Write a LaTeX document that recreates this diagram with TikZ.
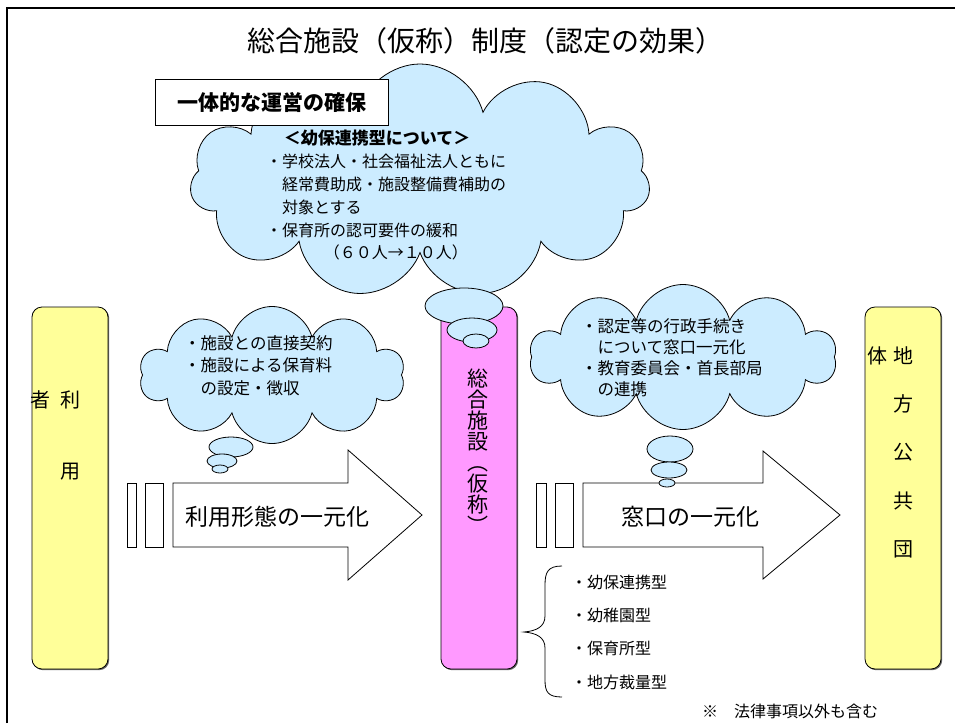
\documentclass[tikz,border=0pt]{standalone}
\usepackage{fontspec}
\setmainfont{Noto Sans CJK JP}
\usetikzlibrary{shapes.symbols,shadows}

\definecolor{cloudblue}{HTML}{CCECFF}
\definecolor{pillarpink}{HTML}{FF99FF}
\definecolor{pillaryellow}{HTML}{FFFF99}
\lineskiplimit=-10pt

\tikzset{
  bubble/.style={cloud, cloud puffs=11, cloud ignores aspect, draw, fill=cloudblue, line width=0.8pt, inner sep=0pt},
  puff/.style={draw, fill=cloudblue, line width=0.8pt},
  pillar/.style={draw, rounded corners=10pt, minimum width=76pt, minimum height=362pt, line width=0.8pt,
    drop shadow={shadow xshift=1.2pt, shadow yshift=-1.2pt, fill=black!60, opacity=1}},
  block/.style={draw, fill=white, line width=0.8pt},
  lines/.style={anchor=west, align=left, inner sep=0pt},
}

\begin{document}
\begin{tikzpicture}[x=1pt, y=-1pt]
\useasboundingbox (0,0) rectangle (955,723);
\draw[line width=2.5pt] (7,723) -- (7,8) -- (955,8);
\node[font=\fontsize{28}{30}\selectfont] (title) at (485,41) {総合施設（仮称）制度（認定の効果）};

% pillars
\node[pillar, fill=pillaryellow] (user) at (70,488) {};
\node[pillar, fill=pillarpink] (facility) at (479,488) {};
\node[pillar, fill=pillaryellow] (gov) at (903,488) {};

\node[font=\fontsize{20}{22}\selectfont] (u1) at (40,400) {者};
\node[font=\fontsize{20}{22}\selectfont] (u2) at (70,400) {利};
\node[font=\fontsize{20}{22}\selectfont] (u3) at (70,472) {用};

\node[align=center, inner sep=0pt, font=\fontsize{21}{21}\selectfont] (factext) at (478,451.5)
  {総\\合\\施\\設\\︵\\仮\\称\\︶};

\node[font=\fontsize{20}{22}\selectfont] (g0) at (877,356) {体};
\node[font=\fontsize{20}{22}\selectfont] (g1) at (903,356) {地};
\node[font=\fontsize{20}{22}\selectfont] (g2) at (903,404) {方};
\node[font=\fontsize{20}{22}\selectfont] (g3) at (903,452) {公};
\node[font=\fontsize{20}{22}\selectfont] (g4) at (903,501) {共};
\node[font=\fontsize{20}{22}\selectfont] (g5) at (903,549) {団};

% top cloud
\node[bubble, minimum width=460pt, minimum height=234pt] (unitycloud) at (420,181) {};
\node[block, minimum width=233pt, minimum height=46pt, font=\bfseries\fontsize{21}{24}\selectfont] (unity) at (271.5,102) {一体的な運営の確保};
\node[font=\bfseries\fontsize{17}{20}\selectfont] (unityhead) at (377,138) {＜幼保連携型について＞};
\node[lines, font=\fontsize{16}{22.75}\selectfont] (unitytext) at (266,207.5)
  {・学校法人・社会福祉法人ともに\\　経常費助成・施設整備費補助の\\　対象とする\\・保育所の認可要件の緩和\\\hspace{3.6em}（６０人→１０人）};
\filldraw[puff] (464,306) ellipse [x radius=39, y radius=18];
\filldraw[puff] (472,330) ellipse [x radius=25, y radius=12];
\filldraw[puff] (476,341) ellipse [x radius=13, y radius=7];

% left cloud
\node[bubble, cloud puffs=10, minimum width=265pt, minimum height=137pt] (usecloud) at (272,375) {};
\node[lines, font=\fontsize{16.5}{22.5}\selectfont] (usetext) at (184,365.5)
  {・施設との直接契約\\・施設による保育料\\　の設定・徴収};
\filldraw[puff] (231,447) ellipse [x radius=22, y radius=10];
\filldraw[puff] (222,461) ellipse [x radius=15, y radius=7];
\filldraw[puff] (220,469) ellipse [x radius=8, y radius=4];

% right cloud
\node[bubble, cloud puffs=10, minimum width=306pt, minimum height=145pt] (govcloud) at (683,357) {};
\node[lines, font=\fontsize{16.5}{21}\selectfont] (govtext) at (581,358)
  {・認定等の行政手続き\\　について窓口一元化\\・教育委員会・首長部局\\　の連携};

% arrows
\draw[block] (127,483) rectangle (136,547);
\draw[block] (145,483) rectangle (163,547);
\draw[block] (173,483) -- (348,483) -- (348,450) -- (422,515) -- (348,580) -- (348,547) -- (173,547) -- cycle;
\node[font=\fontsize{23}{26}\selectfont] (usage) at (277,517) {利用形態の一元化};

\draw[block] (536,483) rectangle (546,547);
\draw[block] (555,483) rectangle (573,547);
\draw[block] (583,483) -- (763,483) -- (763,451) -- (840,515) -- (763,579) -- (763,547) -- (583,547) -- cycle;
\node[font=\fontsize{23}{26}\selectfont] (window) at (690,517) {窓口の一元化};

\filldraw[puff] (670,449) ellipse [x radius=23, y radius=13];
\filldraw[puff] (669,470) ellipse [x radius=18, y radius=8];
\filldraw[puff] (667,483) ellipse [x radius=8, y radius=4];

% types
\draw[line width=0.8pt] (562,566) .. controls (548,566) and (545,572) .. (545,585) -- (545,616)
  .. controls (545,627) and (536,631) .. (524,632) .. controls (536,633) and (545,637) .. (545,648)
  -- (545,680) .. controls (545,692) and (548,697) .. (562,697);
\node[lines, font=\fontsize{16}{33.3}\selectfont] (types) at (571,632)
  {・幼保連携型\\・幼稚園型\\・保育所型\\・地方裁量型};
\node[lines, font=\fontsize{16}{18}\selectfont] (note) at (702,711) {※　法律事項以外も含む};
\end{tikzpicture}
\end{document}
